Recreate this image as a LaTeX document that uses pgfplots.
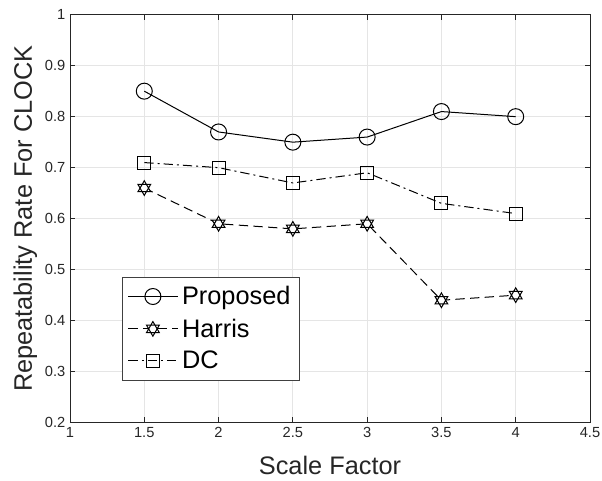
\documentclass[border=0pt]{standalone}
\usepackage{fontspec}
\setmainfont{Liberation Sans}
\usepackage{pgfplots}
\pgfplotsset{compat=1.18}

% six-pointed star, like MATLAB's hexagram
\pgfdeclareplotmark{hexagram}{%
  \pgfpathmoveto{\pgfqpointpolar{90}{\pgfplotmarksize}}%
  \pgfpathlineto{\pgfqpointpolar{210}{\pgfplotmarksize}}%
  \pgfpathlineto{\pgfqpointpolar{330}{\pgfplotmarksize}}%
  \pgfpathclose
  \pgfpathmoveto{\pgfqpointpolar{270}{\pgfplotmarksize}}%
  \pgfpathlineto{\pgfqpointpolar{30}{\pgfplotmarksize}}%
  \pgfpathlineto{\pgfqpointpolar{150}{\pgfplotmarksize}}%
  \pgfpathclose
  \pgfusepathqfillstroke}

\begin{document}
\begin{tikzpicture}
\begin{axis}[
    scale only axis,
    width=390pt, height=306pt,
    xmin=1, xmax=4.5, ymin=0.2, ymax=1,
    xtick={1,1.5,...,4.5},
    ytick={0.2,0.3,...,1},
    yticklabel style={/pgf/number format/fixed},
    xticklabel style={/pgf/number format/fixed},
    /pgf/number format/assume math mode=true,
    tick label style={font=\fontsize{11}{13}\selectfont, text=black!85},
    grid=major,
    major grid style={gray!20, line width=0.6pt},
    axis line style={black!85, line width=0.6pt},
    tick style={black!85, line width=0.6pt},
    major tick length=4pt,
    xlabel={Scale Factor},
    ylabel={Repeatability Rate For CLOCK},
    label style={font=\fontsize{19}{22}\selectfont, text=black!85, inner sep=0pt},
    xlabel style={at={(axis description cs:0.5,-0.1275)}, anchor=base},
    ylabel style={at={(axis description cs:-0.0731,0.5)}, anchor=base},
    legend style={at={(rel axis cs:0.1,0.358)}, anchor=north west,
        font=\fontsize{19}{22}\selectfont, draw=black!75, line width=0.6pt,
        row sep=5pt, inner xsep=4pt, inner ysep=5pt,
        nodes={inner xsep=3pt}},
    legend cell align=left,
    legend image code/.code={%
        \draw[mark repeat=2, mark phase=2] plot coordinates {(0pt,0pt) (18.5pt,0pt) (37pt,0pt)};},
]
\addplot[black, line width=0.75pt, mark=o, mark size=6pt, mark options={solid, fill=white}]
coordinates {(1.5,0.85) (2,0.77) (2.5,0.75) (3,0.76) (3.5,0.81) (4,0.80)};
\addplot[black, line width=0.75pt, dash pattern=on 7pt off 4pt, mark=hexagram, mark size=5.5pt, mark options={solid, fill=white}]
coordinates {(1.5,0.66) (2,0.59) (2.5,0.58) (3,0.59) (3.5,0.44) (4,0.45)};
\addplot[black, line width=0.75pt, dash pattern=on 7pt off 3pt on 1.5pt off 3pt, mark=square, mark size=4.9pt, mark options={solid, fill=white}]
coordinates {(1.5,0.71) (2,0.70) (2.5,0.67) (3,0.69) (3.5,0.63) (4,0.61)};
\legend{Proposed, Harris, DC}
\end{axis}
\pgfresetboundingbox
\path ([shift={(-52.5pt,-43.5pt)}]current axis.south west)
    rectangle ([shift={(9pt,11pt)}]current axis.north east);
\end{tikzpicture}
\end{document}
